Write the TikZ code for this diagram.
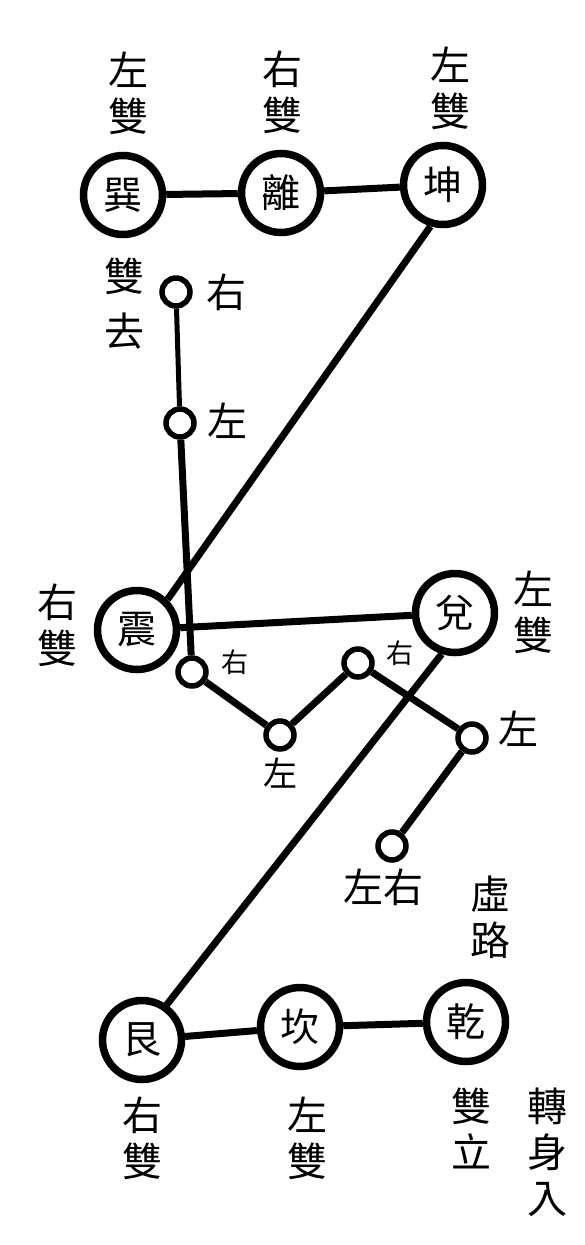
\documentclass[tikz,border=0pt]{standalone}
\usepackage{fontspec}
\setmainfont{Noto Sans CJK TC}
\usepackage{tikz}
\tikzset{gua/.style = {circle, draw, line width=7.5pt, minimum size=79pt,
                       inner sep=0pt, font=\fontsize{39}{39}\selectfont}}
\tikzset{knot/.style = {circle, draw, line width=5.5pt, minimum size=28pt,
                        inner sep=0pt}}
\tikzset{link/.style = {line width=7pt}}
\tikzset{thin link/.style = {line width=5pt}}
\tikzset{word/.style = {align=center, inner sep=0pt,
                        font=\fontsize{40}{46}\selectfont}}
\tikzset{wee/.style = {inner sep=0pt, font=\fontsize{27}{27}\selectfont}}

\begin{document}
\begin{tikzpicture}[x=1pt, y=-1pt]
    \useasboundingbox (0, 0) rectangle (585, 1245);

    \node [gua] (xun) at (123, 195) {巽};
    \node [gua] (li) at (281, 193) {離};
    \node [gua] (kun) at (443, 185) {坤};
    \node [gua] (zhen) at (137, 630) {震};
    \node [gua] (dui) at (455, 613) {兌};
    \node [gua] (gen) at (142, 1040) {艮};
    \node [gua] (kan) at (300, 1027) {坎};
    \node [gua] (qian) at (466, 1022) {乾};

    \node [knot] (p1) at (176, 292) {};
    \node [knot] (p2) at (180, 423) {};
    \node [knot] (p3) at (192, 672) {};
    \node [knot] (p4) at (280, 735) {};
    \node [knot] (p5) at (358, 663) {};
    \node [knot] (p6) at (472, 738) {};
    \node [knot] (p7) at (392, 846) {};

    \draw [link] (xun) -- (li) -- (kun);
    \draw [link] (kun.253) -- (zhen.45);
    \draw [link] (zhen) -- (dui);
    \draw [thin link] (p1) -- (p2);
    \draw [link] (p2) -- (p3);
    \draw [link] (p3) -- (p4) -- (p5) -- (p6) -- (p7);
    \draw [link] (dui.252) -- (gen.55);
    \draw [link] (gen) -- (kan) -- (qian);

    \node [word] (t1) at (128, 93) {左\\雙};
    \node [word] (t2) at (282, 92) {右\\雙};
    \node [word] (t3) at (450, 88) {左\\雙};
    \node [word, font=\fontsize{40}{55}\selectfont] (t4) at (124, 304) {雙\\去};
    \node [word] (t5) at (226, 292) {右};
    \node [word] (t6) at (227, 421) {左};
    \node [word] (t7) at (57, 625) {右\\雙};
    \node [word] (t8) at (533, 612) {左\\雙};
    \node [wee] (t9) at (235, 662) {右};
    \node [wee] (t10) at (400, 653) {右};
    \node [word, font=\fontsize{34}{34}\selectfont] (t11) at (280, 773) {左};
    \node [word] (t12) at (518, 729) {左};
    \node [word] (t13) at (383, 887) {左右};
    \node [word] (t14) at (490, 917) {虛\\路};
    \node [word] (t15) at (142, 1138) {右\\雙};
    \node [word] (t16) at (307, 1138) {左\\雙};
    \node [word] (t17) at (471, 1128) {雙\\立};
    \node [word] (t18) at (547, 1152) {轉\\身\\入};
\end{tikzpicture}
\end{document}
